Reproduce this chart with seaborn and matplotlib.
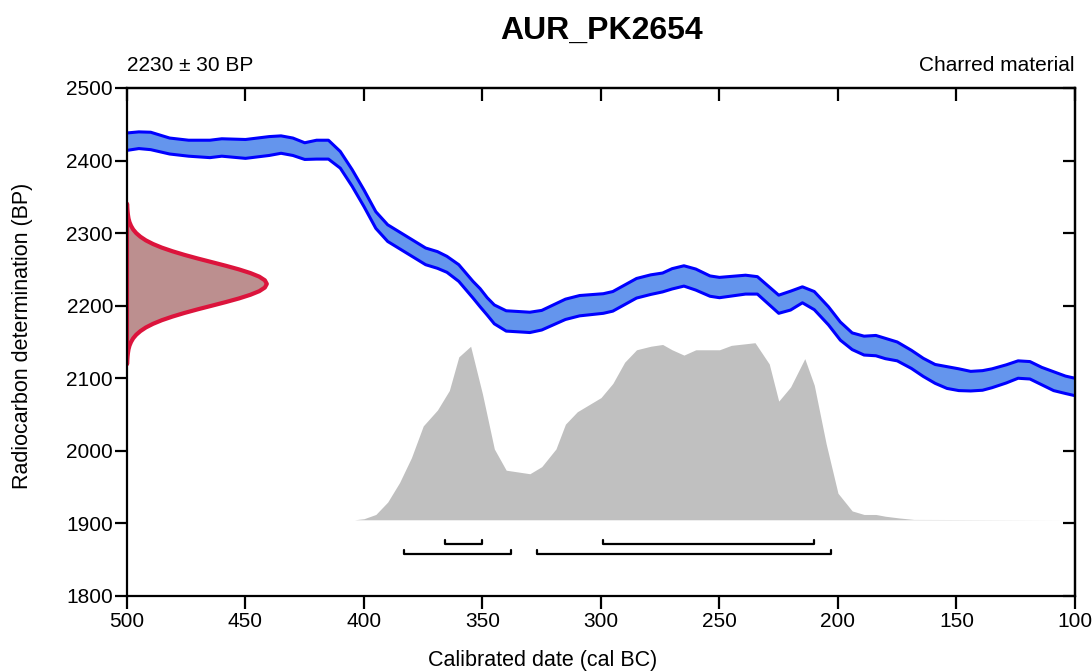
import numpy as np
import pandas as pd
import matplotlib
matplotlib.use("Agg")
import matplotlib.pyplot as plt
import seaborn as sns

# calibration curve (cal BC, BP, 1 sigma)
cal_years = [500, 495, 490, 482, 474, 465, 460, 450, 440, 435, 430, 425, 420, 415,
             410, 405, 400, 395, 390, 382, 374, 369, 365, 360, 354, 351, 348, 345,
             340, 330, 325, 315, 309, 299, 295, 285, 279, 274, 270, 265, 260, 254,
             250, 239, 234, 225, 220, 215, 210, 204, 199, 194, 189, 184, 180, 175,
             169, 164, 159, 154, 149, 144, 139, 135, 129, 124, 119, 114, 109, 104, 100]
cal_bp = [2426, 2428, 2427, 2420, 2417, 2416, 2418, 2416, 2420, 2422, 2419, 2413, 2415, 2415,
          2401, 2376, 2348, 2318, 2300, 2284, 2268, 2263, 2257, 2245, 2222, 2211, 2199, 2188,
          2179, 2177, 2180, 2195, 2200, 2203, 2206, 2224, 2229, 2232, 2237, 2241, 2236, 2227,
          2225, 2229, 2228, 2202, 2207, 2215, 2207, 2186, 2165, 2151, 2145, 2145, 2141, 2137,
          2126, 2115, 2106, 2101, 2098, 2096, 2097, 2100, 2106, 2112, 2111, 2103, 2096, 2091, 2088]
cal_err = [12, 11.5, 12, 11, 11, 12, 12, 13, 13, 12, 12, 11.5, 13, 13,
           11.5, 11.5, 11.5, 11.5, 11.5, 11.5, 11.5, 11.5, 11, 11.5, 11.5, 12.5, 12, 13,
           14, 14, 13.5, 14, 14, 13.5, 13.5, 13.5, 13.5, 13, 14, 14, 14.5, 14,
           14, 13, 12, 12.5, 13, 11, 12.5, 12.5, 12.5, 11.5, 13, 14, 14, 13,
           12.5, 12.5, 13, 15, 15, 13.5, 13.5, 13, 12.5, 12, 12, 12, 13, 12, 12]

# radiocarbon measurement 2230 +/- 30 BP (relative density)
meas_bp = [2120, 2125, 2130, 2135, 2140, 2145, 2150, 2155, 2160, 2165, 2170, 2175, 2180,
           2185, 2190, 2195, 2200, 2205, 2210, 2215, 2220, 2225, 2230, 2235, 2240, 2245,
           2250, 2255, 2260, 2265, 2270, 2275, 2280, 2285, 2290, 2295, 2300, 2305, 2310,
           2315, 2320, 2325, 2330, 2335, 2340]
meas_prob = [0.001, 0.002, 0.004, 0.007, 0.011, 0.018, 0.029, 0.044, 0.066, 0.096, 0.135,
             0.186, 0.249, 0.325, 0.411, 0.506, 0.607, 0.707, 0.801, 0.882, 0.946, 0.986,
             1.000, 0.986, 0.946, 0.882, 0.801, 0.707, 0.607, 0.506, 0.411, 0.325, 0.249,
             0.186, 0.135, 0.096, 0.066, 0.044, 0.029, 0.018, 0.011, 0.007, 0.004, 0.002, 0.001]

# calibrated probability distribution (relative)
dist_years = [404, 400, 395, 390, 385, 380, 375, 369, 364, 360, 355, 350, 345, 340, 330,
              325, 319, 315, 310, 300, 295, 290, 285, 279, 274, 270, 265, 260, 250, 245,
              235, 229, 225, 220, 214, 210, 205, 200, 194, 189, 184, 180, 174, 168, 104]
dist_prob = [0, 0.006, 0.03, 0.10, 0.21, 0.35, 0.53, 0.62, 0.73, 0.92, 0.98, 0.71, 0.40,
             0.28, 0.26, 0.30, 0.40, 0.54, 0.61, 0.69, 0.77, 0.89, 0.96, 0.98, 0.99, 0.96,
             0.93, 0.96, 0.96, 0.985, 1.0, 0.88, 0.67, 0.75, 0.91, 0.76, 0.43, 0.15, 0.05,
             0.03, 0.03, 0.02, 0.01, 0.002, 0]

# highest posterior density ranges (cal BC)
hpd_68 = [(366, 350), (299, 210)]
hpd_95 = [(383, 338), (327, 203)]

x_ticks = [500, 450, 400, 350, 300, 250, 200, 150, 100]
y_ticks = [1800, 1900, 2000, 2100, 2200, 2300, 2400, 2500]

sns.set_style("ticks")
plt.rcParams['font.family'] = ['Liberation Sans', 'DejaVu Sans']
plt.rcParams.update({"text.color": "black", "axes.labelcolor": "black",
                     "xtick.color": "black", "ytick.color": "black",
                     "axes.edgecolor": "black"})

curve = pd.DataFrame({"year": cal_years, "bp": cal_bp, "err": cal_err})
curve["upper"] = curve["bp"] + curve["err"]
curve["lower"] = curve["bp"] - curve["err"]
meas = pd.DataFrame({"bp": meas_bp, "prob": meas_prob})
dist = pd.DataFrame({"year": dist_years, "prob": dist_prob})

fig = plt.figure(figsize=(10.92, 6.71), dpi=100)
ax = fig.add_axes([0.1163, 0.1118, 0.8681, 0.7571])

# posterior distribution (grey)
dist_base, dist_scale = 1905, 244
ax.fill_between(dist["year"], dist_base, dist_base + dist["prob"] * dist_scale,
                color="#c0c0c0", lw=0, zorder=1)

# calibration curve band
ax.fill_between(curve["year"], curve["lower"], curve["upper"], color="#6495ed", lw=0, zorder=2)
sns.lineplot(data=curve, x="year", y="upper", color="#0000ff", lw=2.2, sort=False, ax=ax, zorder=3)
sns.lineplot(data=curve, x="year", y="lower", color="#0000ff", lw=2.2, sort=False, ax=ax, zorder=3)

# measurement on the y axis
meas_amp = 59
ax.fill_betweenx(meas["bp"], 500, 500 - meas["prob"] * meas_amp, color="#bc8f8f", lw=0, zorder=4)
ax.plot(500 - meas["prob"] * meas_amp, meas["bp"], color="#dc143c", lw=3, zorder=5,
        solid_capstyle="round")
ax.plot([500, 500], [meas_bp[0], meas_bp[-1]], color="#dc143c", lw=3, zorder=5)

# hpd brackets
for ranges, yb in [(hpd_68, 1872), (hpd_95, 1858)]:
    for a, b in ranges:
        ax.plot([a, a, b, b], [yb + 5, yb, yb, yb + 5], color="black", lw=1.6, zorder=5)

ax.set_xlim(500, 100)
ax.set_ylim(1800, 2500)
ax.set_xticks(x_ticks)
ax.set_yticks(y_ticks)
ax.set_xlabel("")
ax.set_ylabel("")
ax.tick_params(direction="out", length=9, width=1.6, labelsize=15)
ax.tick_params(axis="x", pad=2.5)
ax.tick_params(axis="y", pad=1)
for s in ax.spines.values():
    s.set_linewidth(1.6)
    s.set_zorder(6)

top = ax.secondary_xaxis("top")
top.set_xticks(x_ticks)
top.tick_params(direction="in", length=9, width=1.6, labeltop=False)
top.spines["top"].set_linewidth(1.6)
right = ax.secondary_yaxis("right")
right.set_yticks(y_ticks)
right.tick_params(direction="in", length=9, width=1.6, labelright=False)
right.spines["right"].set_linewidth(1.6)

fig.text(0.497, 0.0075, "Calibrated date (cal BC)", fontsize=15.5, ha="center", va="baseline")
fig.text(0.021, 0.5, "Radiocarbon determination (BP)", fontsize=15.5, rotation=90,
         ha="center", va="center")
ax.text(0, 1.034, "2230 \u00b1 30 BP", transform=ax.transAxes, fontsize=15, ha="left", va="baseline")
ax.text(1, 1.034, "Charred material", transform=ax.transAxes, fontsize=15, ha="right", va="baseline")
fig.text(0.5504, 0.954, "AUR_PK2654", fontsize=23, fontweight="bold", ha="center", va="center")

fig.savefig("out.png", dpi=100)
